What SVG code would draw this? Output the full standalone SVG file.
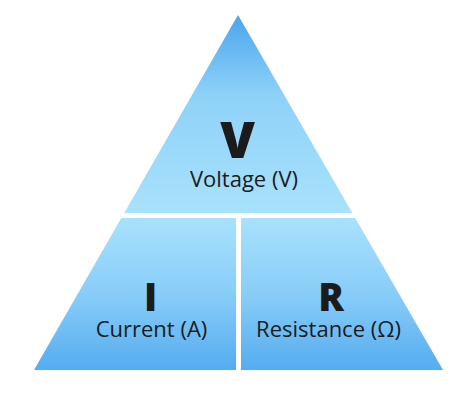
<svg xmlns="http://www.w3.org/2000/svg" width="475" height="401" viewBox="0 0 475 401">
  <defs>
    <linearGradient id="gTop" gradientUnits="userSpaceOnUse" x1="0" y1="15" x2="0" y2="213">
      <stop offset="0" stop-color="#4aa6ee"/>
      <stop offset="0.4" stop-color="#8ed1f8"/>
      <stop offset="1" stop-color="#a8e2fc"/>
    </linearGradient>
    <linearGradient id="gBot" gradientUnits="userSpaceOnUse" x1="0" y1="218" x2="0" y2="370">
      <stop offset="0" stop-color="#a8e2fc"/>
      <stop offset="0.5" stop-color="#88cdf8"/>
      <stop offset="1" stop-color="#55acf0"/>
    </linearGradient>
    <style>
      .sym { font-family: "Open Sans", "Noto Sans", "Liberation Sans", sans-serif; font-weight: 800; fill: #1b1b1b; text-anchor: middle; }
      .lbl { font-family: "Open Sans", "Noto Sans", "Liberation Sans", sans-serif; font-size: 22px; font-weight: 500; fill: #1b1b1b; text-anchor: middle; }
    </style>
  </defs>
  <rect width="475" height="401" fill="#ffffff"/>
  <g id="voltage">
    <polygon points="238,15 352.3,213 124.2,213" fill="url(#gTop)"/>
    <text class="sym" x="237.5" y="158" font-size="50">V</text>
    <text class="lbl" x="244" y="187">Voltage (V)</text>
  </g>
  <g id="current">
    <polygon points="121.3,218 236,218 236,370 34,370" fill="url(#gBot)"/>
    <text class="sym" x="150.5" y="311" font-size="38">I</text>
    <text class="lbl" x="151.5" y="337">Current (A)</text>
  </g>
  <g id="resistance">
    <polygon points="241,218 355.2,218 443,370 241,370" fill="url(#gBot)"/>
    <text class="sym" x="331" y="311" font-size="38">R</text>
    <text class="lbl" x="328.5" y="337">Resistance (Ω)</text>
  </g>
  <g id="connectors"/>
</svg>
